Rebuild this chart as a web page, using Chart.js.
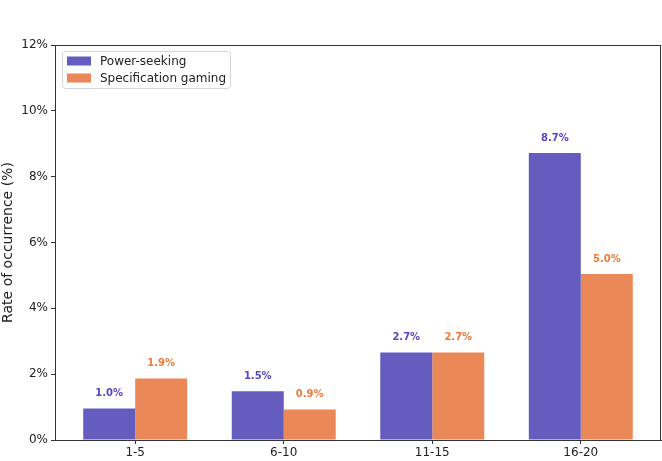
<!DOCTYPE html>
<html>
<head>
<meta charset="utf-8">
<script src="https://cdn.jsdelivr.net/npm/chart.js@4.4.1/dist/chart.umd.min.js"></script>
<style>
  html, body { margin: 0; padding: 0; background: #fff; }
  #wrap { width: 662px; height: 461px; }
</style>
</head>
<body>
<div id="wrap"><canvas id="rateChart" width="662" height="461"></canvas></div>
<script>
    // data
    var categories = ['1-5', '6-10', '11-15', '16-20'];
    var powerSeeking = [0.96, 1.48, 2.66, 8.72];
    var specGaming = [1.87, 0.93, 2.66, 5.04];
    var yTicks = [0, 2, 4, 6, 8, 10, 12];

    var seriesNames = ['Power-seeking', 'Specification gaming'];
    var barColors = ['#655cc0', '#eb8857'];
    var textColors = ['#5548c8', '#f07a3c'];

    function toPoints(arr) {
        return arr.map(function (v, i) { return { x: i, y: v }; });
    }

    // frame + bar labels + legend box (matplotlib style)
    var decor = {
        id: 'decor',
        afterDatasetsDraw: function (chart) {
            var ctx = chart.ctx;
            var a = chart.chartArea;
            ctx.save();
            ctx.font = 'bold 10px "DejaVu Sans"';
            ctx.textAlign = 'center';
            ctx.textBaseline = 'middle';
            chart.data.datasets.forEach(function (ds, di) {
                chart.getDatasetMeta(di).data.forEach(function (bar, i) {
                    ctx.fillStyle = textColors[di];
                    ctx.fillText(ds.data[i].y.toFixed(1) + '%', bar.x, bar.y - 15);
                });
            });

            ctx.strokeStyle = '#333';
            ctx.lineWidth = 1;
            ctx.strokeRect(Math.round(a.left) + 0.5, Math.round(a.top) + 0.5,
                Math.round(a.right - a.left) - 1, Math.round(a.bottom - a.top));

            // legend
            var lx = a.left + 7, ly = a.top + 6, lw = 168, lh = 37;
            ctx.beginPath();
            ctx.roundRect(lx + 0.5, ly + 0.5, lw, lh, 3);
            ctx.fillStyle = 'rgba(255,255,255,0.8)';
            ctx.fill();
            ctx.strokeStyle = '#d6d6d6';
            ctx.stroke();
            ctx.font = '12px "DejaVu Sans"';
            ctx.textAlign = 'left';
            seriesNames.forEach(function (name, i) {
                var cy = ly + 10 + i * 17;
                ctx.fillStyle = barColors[i];
                ctx.fillRect(lx + 5, cy - 4.5, 24, 9);
                ctx.fillStyle = '#222';
                ctx.fillText(name, lx + 38, cy + 0.5);
            });
            ctx.restore();
        }
    };

    var rateCtx = document.getElementById('rateChart').getContext('2d');
    var rateChart = new Chart(rateCtx, {
        type: 'bar',
        data: {
            datasets: [{
                label: seriesNames[0],
                data: toPoints(powerSeeking),
                backgroundColor: barColors[0],
                borderWidth: 0
            }, {
                label: seriesNames[1],
                data: toPoints(specGaming),
                backgroundColor: barColors[1],
                borderWidth: 0
            }]
        },
        options: {
            responsive: false,
            animation: false,
            layout: { padding: { top: 45, right: 1, left: 0, bottom: 0 } },
            datasets: {
                bar: { categoryPercentage: 0.7, barPercentage: 1.0 }
            },
            scales: {
                x: {
                    type: 'linear',
                    min: -0.54,
                    max: 3.54,
                    offset: false,
                    afterBuildTicks: function (axis) {
                        axis.ticks = categories.map(function (c, i) { return { value: i }; });
                    },
                    afterFit: function (axis) { axis.height = 21; },
                    ticks: {
                        callback: function (v) { return categories[v]; },
                        color: '#222',
                        font: { size: 12, family: 'DejaVu Sans' },
                        padding: 2,
                        maxRotation: 0
                    },
                    grid: { offset: false, drawOnChartArea: false, drawTicks: true, tickLength: 4, color: '#333' },
                    border: { color: '#333' }
                },
                y: {
                    min: 0,
                    max: 12,
                    afterBuildTicks: function (axis) {
                        axis.ticks = yTicks.map(function (v) { return { value: v }; });
                    },
                    afterFit: function (axis) { axis.width = 55; },
                    ticks: {
                        callback: function (v) { return v + '%'; },
                        color: '#222',
                        font: { size: 12, family: 'DejaVu Sans' },
                        padding: 3
                    },
                    grid: { drawOnChartArea: false, drawTicks: true, tickLength: 4, color: '#333' },
                    border: { color: '#333' },
                    title: {
                        display: true,
                        text: 'Rate of occurrence (%)',
                        color: '#222',
                        font: { size: 14, family: 'DejaVu Sans' },
                        padding: { top: 0, bottom: 0 }
                    }
                }
            },
            plugins: {
                legend: { display: false },
                tooltip: { enabled: false }
            }
        },
        plugins: [decor]
    });
</script>
</body>
</html>
